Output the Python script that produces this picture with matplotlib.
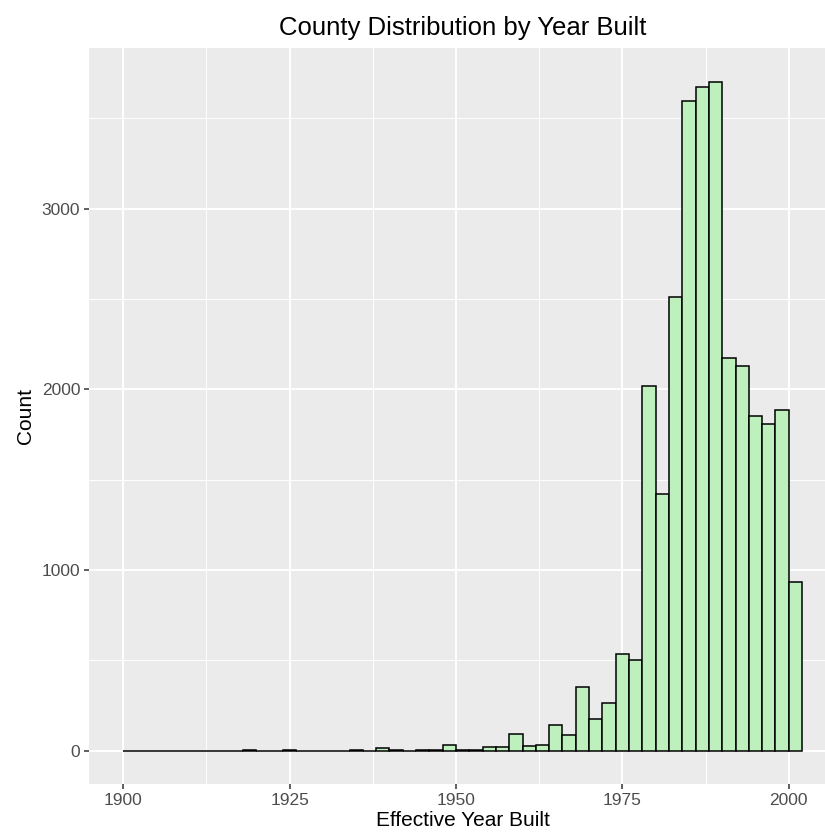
import numpy as np
import matplotlib
matplotlib.use("Agg")
import matplotlib.pyplot as plt

# histogram bins, 2 years wide, 1900-2002 (left edges 1900..2000)
bin_left = list(range(1900, 2002, 2))
counts = [0, 0, 0, 0, 0, 0, 0, 0, 0, 2,      # 1900-1918
          0, 0, 3, 0, 0, 0, 0, 3, 0, 12,     # 1920-1938
          4, 0, 4, 5, 31, 5, 3, 22, 18, 92,  # 1940-1958
          28, 31, 144, 85, 354, 176, 266, 537, 501, 2018,   # 1960-1978
          1419, 2513, 3599, 3675, 3700, 2175, 2127, 1850, 1807, 1886,  # 1980-1998
          934]                               # 2000
x_ticks = [1900, 1925, 1950, 1975, 2000]
y_ticks = [0, 1000, 2000, 3000]

plt.rcParams['font.family'] = ['Liberation Sans', 'DejaVu Sans']

fig = plt.figure(figsize=(8.25, 8.38), dpi=100)
ax = fig.add_axes([89.3/825, 54/838, (836-89.3)/825, (784-48)/838])
ax.set_facecolor('#EBEBEB')

ax.bar(bin_left, counts, width=2, align='edge', color='#bdf0bd',
       edgecolor='black', linewidth=1.1, zorder=3)

ax.set_xlim(1894.9, 2007.1)
ax.set_ylim(-185, 3890)
ax.set_xticks(x_ticks)
ax.set_yticks(y_ticks)
ax.set_xticks([1912.5, 1937.5, 1962.5, 1987.5], minor=True)
ax.set_yticks([500, 1500, 2500, 3500], minor=True)
ax.grid(True, which='major', color='white', linewidth=1.4, zorder=0)
ax.grid(True, which='minor', color='white', linewidth=0.7, zorder=0)
ax.set_axisbelow(True)
for s in ax.spines.values():
    s.set_visible(False)
ax.tick_params(which='major', length=3.5, width=1.1, color='#333333',
               labelcolor='#4D4D4D', labelsize=12.5, pad=3)
ax.tick_params(which='minor', length=0)

ax.set_xlabel('Effective Year Built', fontsize=15, color='black', labelpad=2)
ax.set_ylabel('Count', fontsize=15, color='black', labelpad=5)
ax.set_title('County Distribution by Year Built', fontsize=18.5, pad=9)

fig.savefig('out.png', dpi=100)
